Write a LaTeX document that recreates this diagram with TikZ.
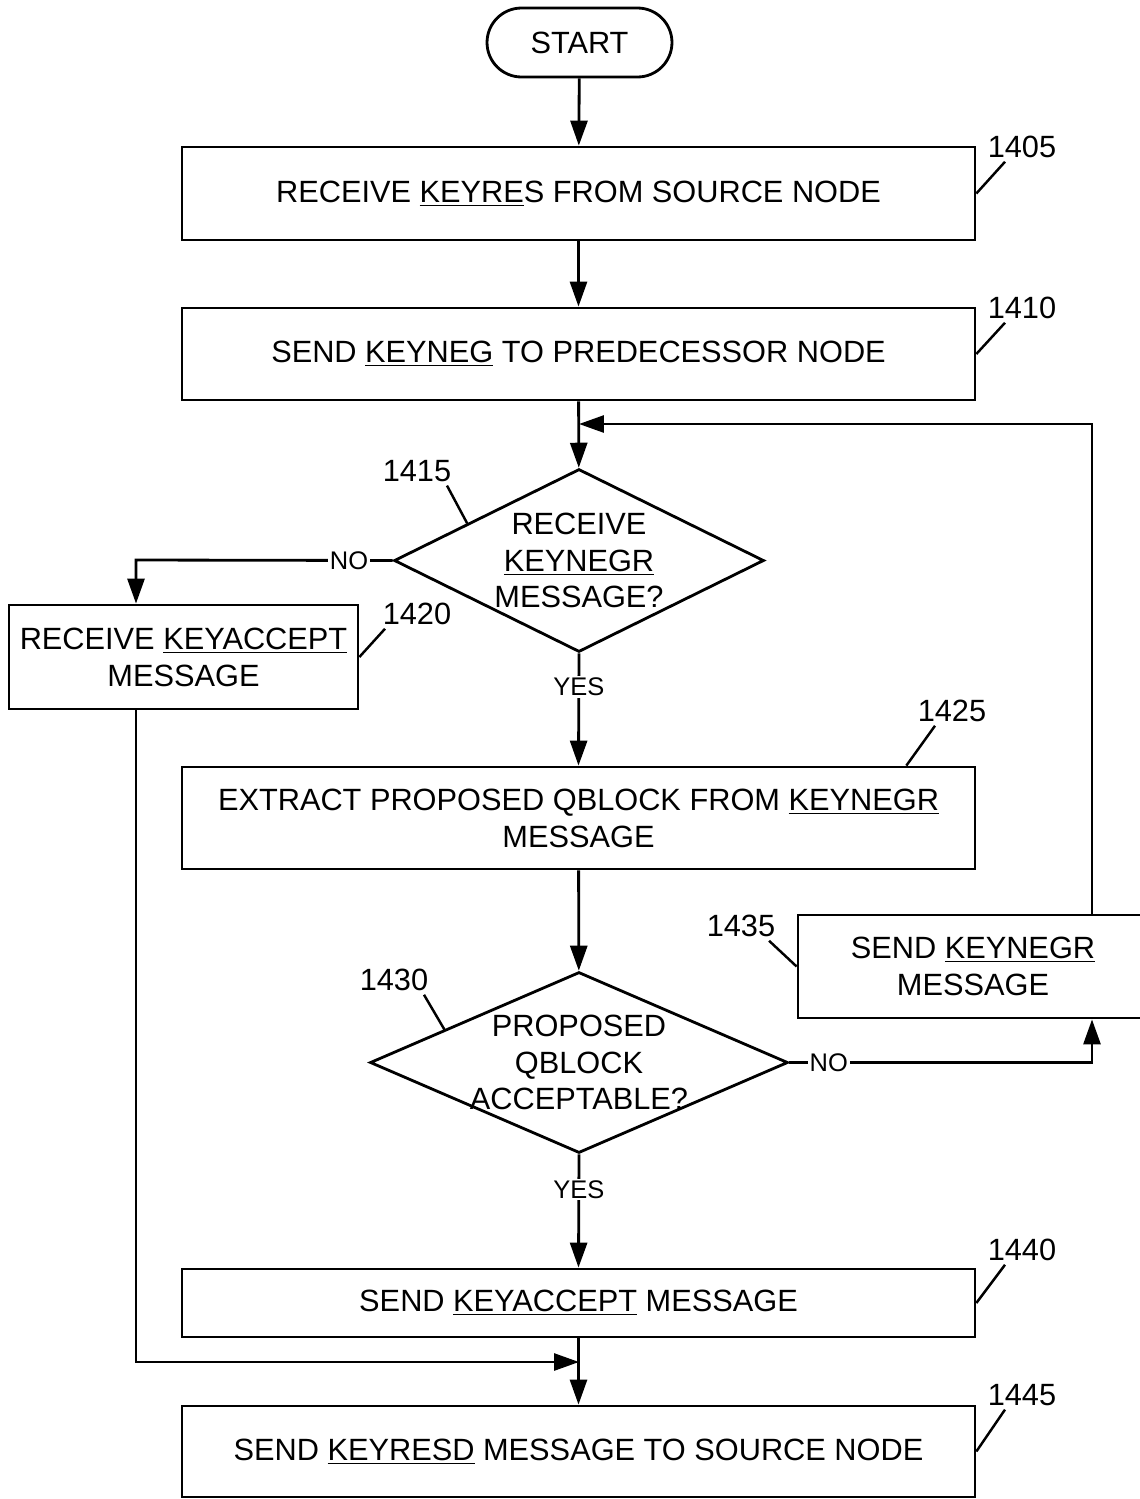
\documentclass[tikz,border=0pt]{standalone}
\usepackage{fontspec}
\setmainfont{Liberation Sans}
\usetikzlibrary{positioning,calc,arrows.meta,shapes.geometric}
\tikzset{
  flow/.style={draw, line width=1.6pt, align=center, inner sep=0pt, font=\fontsize{17.5}{21}\selectfont},
  procbox/.style={flow, rectangle, minimum width=15.86cm},
  decision/.style={flow, diamond},
  terminal/.style={flow, rectangle, rounded corners=0.69cm, minimum width=3.7cm, minimum height=1.38cm},
  arr/.style={line width=1.6pt, -{Triangle[length=0.5cm,width=0.34cm]}},
  lead/.style={line width=1.4pt},
  ref/.style={font=\fontsize{17.5}{21}\selectfont, inner sep=2pt},
  lab/.style={fill=white, font=\fontsize{14.5}{17}\selectfont, inner sep=1pt},
  dtext/.style={align=center, font=\fontsize{17.5}{21}\selectfont}
}
\begin{document}
\begin{tikzpicture}[x=0.02cm,y=-0.02cm]
\useasboundingbox (0,0) rectangle (1140,1499);
\node[terminal] (start) at (579.5,42.5) {START};
\node[procbox, minimum height=1.86cm] (b1405) at (578.5,193.5) {RECEIVE \underline{KEYRE}S FROM SOURCE NODE};
\node[procbox, minimum height=1.84cm] (b1410) at (578.5,354) {SEND \underline{KEYNEG} TO PREDECESSOR NODE};
\node[decision, minimum width=7.4cm, minimum height=3.66cm,
  label={[dtext]center:RECEIVE\\\underline{KEYNEGR}\\MESSAGE?}] (d1415) at (579,560.5) {};
\node[flow, minimum width=6.98cm, minimum height=2.08cm] (b1420) at (183.5,657) {RECEIVE \underline{KEYACCEPT}\\MESSAGE};
\node[procbox, minimum height=2.04cm] (b1425) at (578.5,818) {EXTRACT PROPOSED QBLOCK FROM \underline{KEYNEGR}\\MESSAGE};
\node[decision, minimum width=8.36cm, minimum height=3.62cm,
  label={[dtext]center:PROPOSED\\QBLOCK\\ACCEPTABLE?}] (d1430) at (579,1062.5) {};
\node[flow, minimum width=7.0cm, minimum height=2.06cm] (b1435) at (973,966.5) {SEND \underline{KEYNEGR}\\MESSAGE};
\node[procbox, minimum height=1.36cm] (b1440) at (578.5,1303) {SEND \underline{KEYACCEPT} MESSAGE};
\node[procbox, minimum height=1.82cm] (b1445) at (578.5,1451.5) {SEND \underline{KEYRESD} MESSAGE TO SOURCE NODE};

\coordinate (m1) at (579,424);
\coordinate (r1) at (1092,424);
\coordinate (l1) at (136,560);
\coordinate (m2) at (579,1362);

\draw[arr] (start) -- (b1405);
\draw[arr] (b1405) -- (b1410);
\draw[arr] (b1410) -- (d1415);
\draw[arr] (d1415.west) -- node[lab, pos=0.17]{NO} (l1) -- (b1420.north -| l1);
\draw[arr] (d1415.south) -- node[lab, pos=0.3]{YES} (b1425.north);
\draw[arr] (b1425) -- (d1430);
\draw[arr] (d1430.east) -- node[lab, pos=0.13]{NO} (d1430.east -| r1) -- (b1435.south -| r1);
\draw[arr] (b1435.north -| r1) -- (r1) -- (m1);
\draw[arr] (d1430.south) -- node[lab, pos=0.31]{YES} (b1440.north);
\draw[arr] (b1440) -- (b1445);
\draw[arr] (b1420.south -| l1) -- (l1 |- m2) -- (m2);

\node[ref] (n1405) at (1022,147) {1405};
\node[ref] (n1410) at (1022,308) {1410};
\node[ref] (n1415) at (417,471) {1415};
\node[ref] (n1420) at (417,614) {1420};
\node[ref] (n1425) at (952,711) {1425};
\node[ref] (n1430) at (394,980) {1430};
\node[ref] (n1435) at (741,926) {1435};
\node[ref] (n1440) at (1022,1250) {1440};
\node[ref] (n1445) at (1022,1395) {1445};
\draw[lead] (b1405.east) -- ([xshift=-0.34cm]n1405.south);
\draw[lead] (b1410.east) -- ([xshift=-0.34cm]n1410.south);
\draw[lead] ($(d1415.north)!0.6!(d1415.west)$) -- ([xshift=0.6cm]n1415.south);
\draw[lead] (b1420.east) -- ([xshift=-0.64cm]n1420.south);
\draw[lead] ([xshift=-1.4cm]b1425.north east) -- ([xshift=-0.34cm]n1425.south);
\draw[lead] ($(d1430.north)!0.64!(d1430.west)$) -- ([xshift=0.6cm]n1430.south);
\draw[lead] (b1435.west) -- ([xshift=-0.2cm]n1435.south east);
\draw[lead] (b1440.east) -- ([xshift=-0.34cm]n1440.south);
\draw[lead] (b1445.east) -- ([xshift=-0.34cm]n1445.south);
\end{tikzpicture}
\end{document}
